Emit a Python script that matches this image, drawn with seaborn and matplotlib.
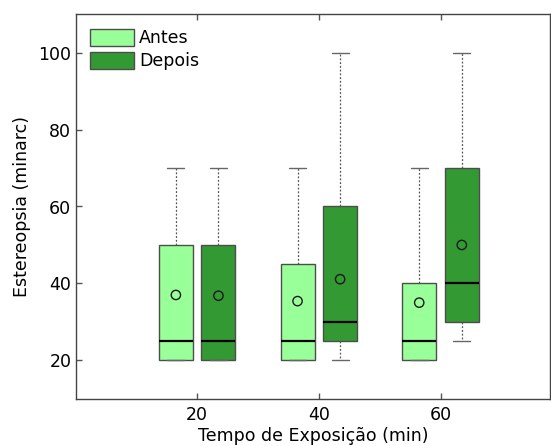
import matplotlib
matplotlib.use("Agg")
import matplotlib.pyplot as plt
import seaborn as sns
import pandas as pd
from matplotlib.patches import Patch

# ---- data ----
times = [20, 40, 60]
groups = ["Antes", "Depois"]

antes_whislo = [20, 20, 20]
antes_q1 = [20, 20, 20]
antes_med = [25, 25, 25]
antes_q3 = [50, 45, 40]
antes_whishi = [70, 70, 70]
antes_mean = [37.0, 35.4, 35.0]

depois_whislo = [20, 20, 25]
depois_q1 = [20, 25, 30]
depois_med = [25, 30, 40]
depois_q3 = [50, 60, 70]
depois_whishi = [70, 100, 100]
depois_mean = [36.8, 41.1, 50.0]

colors = {"Antes": "#99FF99", "Depois": "#339933"}

# ---- styling ----
sns.set_theme(style="ticks")
plt.rcParams["font.family"] = ["DejaVu Sans"]
plt.rcParams["text.color"] = "black"
plt.rcParams["axes.labelcolor"] = "black"
plt.rcParams["xtick.labelcolor"] = "black"
plt.rcParams["ytick.labelcolor"] = "black"

fig = plt.figure(figsize=(5.51, 4.46), dpi=100)
ax = fig.add_axes([75.5 / 551, 47.2 / 446, (550 - 75.5) / 551, (398.8 - 14.2) / 446])

offset = 3.5
width = 5.6
series = {
    "Antes": (antes_whislo, antes_q1, antes_med, antes_q3, antes_whishi, antes_mean, -offset),
    "Depois": (depois_whislo, depois_q1, depois_med, depois_q3, depois_whishi, depois_mean, offset),
}

rows = []
for g in groups:
    wl, q1, med, q3, wh, mn, off = series[g]
    stats = []
    for i, t in enumerate(times):
        stats.append(dict(whislo=wl[i], q1=q1[i], med=med[i], q3=q3[i],
                          whishi=wh[i], mean=mn[i], fliers=[]))
        rows.append(dict(x=t + off, y=mn[i], group=g))
    pos = [t + off for t in times]
    ax.bxp(stats, positions=pos, widths=width, patch_artist=True,
           showmeans=False, showfliers=False,
           boxprops=dict(facecolor=colors[g], edgecolor="#4d4d4d", linewidth=1.0),
           medianprops=dict(color="black", linewidth=1.6),
           whiskerprops=dict(color="#555555", linestyle=(0, (1.5, 1.5)), linewidth=0.9),
           capprops=dict(color="#666666", linewidth=1.0),
           capwidths=width / 2, manage_ticks=False)

means_df = pd.DataFrame(rows)
sns.scatterplot(data=means_df, x="x", y="y", ax=ax, marker="o", s=45,
                facecolor="none", edgecolor="#1a1a1a", linewidth=1.0,
                legend=False, zorder=5)

ax.set_xlim(0, 78)
ax.set_ylim(10, 110)
ax.set_xticks(times)
ax.set_xticklabels([str(t) for t in times])
ax.set_yticks([20, 40, 60, 80, 100])
ax.tick_params(direction="in", length=4, width=1, color="#555555",
               labelsize=12.5, pad=3, top=True, right=False)
ax.tick_params(axis="x", pad=5.5)
for s in ax.spines.values():
    s.set_color("#444444")
    s.set_linewidth(1.0)

ax.set_xlabel("Tempo de Exposição (min)", fontsize=12.5, labelpad=2)
ax.set_ylabel("Estereopsia (minarc)", fontsize=12.5, labelpad=5)

handles = [Patch(facecolor=colors[g], edgecolor="#4d4d4d", label=g) for g in groups]
ax.legend(handles=handles, loc="upper left", frameon=False, fontsize=12.5,
          handlelength=2.5, handleheight=1.15, handletextpad=0.3,
          labelspacing=0.25, borderaxespad=0.55, borderpad=0.3)

fig.savefig("out.png", dpi=100)
